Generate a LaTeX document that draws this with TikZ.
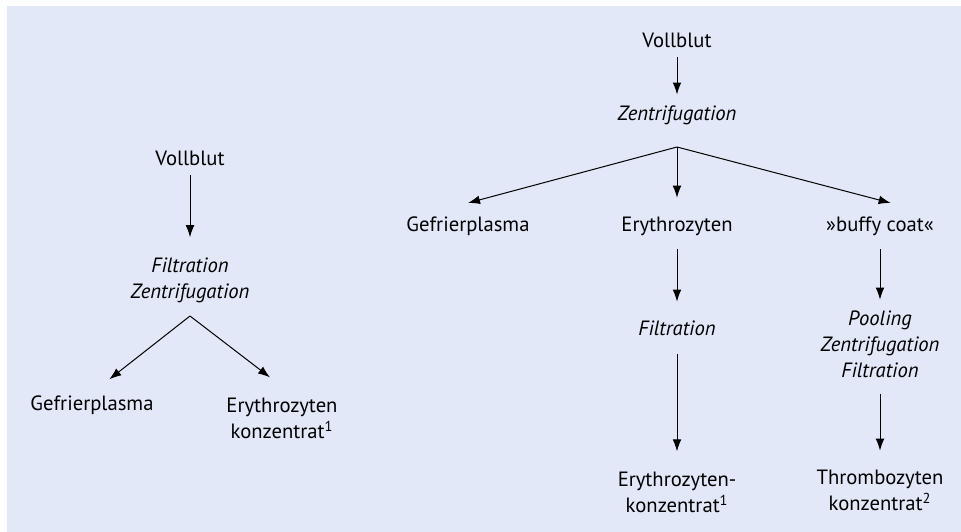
\documentclass[tikz,border=0pt]{standalone}
\usepackage{fontspec}
\setmainfont{PT Sans}
\usepackage{tikz}
\definecolor{panelBlue}{RGB}{226, 232, 247}
\usetikzlibrary{arrows.meta, positioning}

\begin{document}
\begin{tikzpicture}[
    x=0.75pt, y=-0.75pt,
    lbl/.style={align=center, inner sep=0pt, font=\fontsize{15.5}{19.5}\selectfont},
    proc/.style={lbl, font=\fontsize{15.5}{19.5}\selectfont\itshape},
    flow/.style={-{Latex[length=9pt,width=6.5pt]}, line width=0.75pt}
]
    \useasboundingbox (0,0) rectangle (961,532);
    \fill[panelBlue] (7,6) rectangle (961,532);

    % left: whole blood filtered
    \node[lbl] (vbL) at (190,158) {Vollblut};
    \node[proc] (procL) at (190,280) {Filtration\\Zentrifugation};
    \coordinate (splitL) at (190,316);
    \node[lbl] (gpL) at (92,405) {Gefrierplasma};
    \node[lbl] (ekL) at (282,418) {Erythrozyten\\konzentrat\textsuperscript{1}};

    \draw[flow] ([yshift=-7pt]vbL.south) -- ([yshift=15pt]procL.north);
    \draw[flow] (splitL) -- ([xshift=13pt,yshift=12pt]gpL.north);
    \draw[flow] (splitL) -- ([xshift=-9pt,yshift=15pt]ekL.north);

    % right: whole blood centrifuged
    \node[lbl] (vbR) at (677,40) {Vollblut};
    \node[proc] (procR) at (677,115) {Zentrifugation};
    \coordinate (splitR) at (677,147);
    \node[lbl] (gpR) at (468,226) {Gefrierplasma};
    \node[lbl] (ezR) at (677,226) {Erythrozyten};
    \node[lbl] (bcR) at (880,226) {»buffy coat«};
    \node[proc] (filR) at (677,328) {Filtration};
    \node[proc] (poolR) at (880,344) {Pooling\\Zentrifugation\\Filtration};
    \node[lbl] (ekR) at (677,492) {Erythrozyten-\\konzentrat\textsuperscript{1}};
    \node[lbl] (tkR) at (880,490) {Thrombozyten\\konzentrat\textsuperscript{2}};

    \draw[flow] ([yshift=-7pt]vbR.south) -- ([yshift=8pt]procR.north);
    \draw[flow] (splitR) -- ([yshift=10pt]gpR.north);
    \draw[flow] (splitR) -- ([yshift=14pt]ezR.north);
    \draw[flow] (splitR) -- ([xshift=8pt,yshift=10pt]bcR.north);
    \draw[flow] ([yshift=-10pt]ezR.south) -- ([yshift=14pt]filR.north);
    \draw[flow] ([yshift=-10pt]bcR.south) -- ([yshift=8pt]poolR.north);
    \draw[flow] ([yshift=-14pt]filR.south) -- ([yshift=15pt]ekR.north);
    \draw[flow] ([yshift=-12pt]poolR.south) -- ([yshift=14pt]tkR.north);
\end{tikzpicture}
\end{document}
